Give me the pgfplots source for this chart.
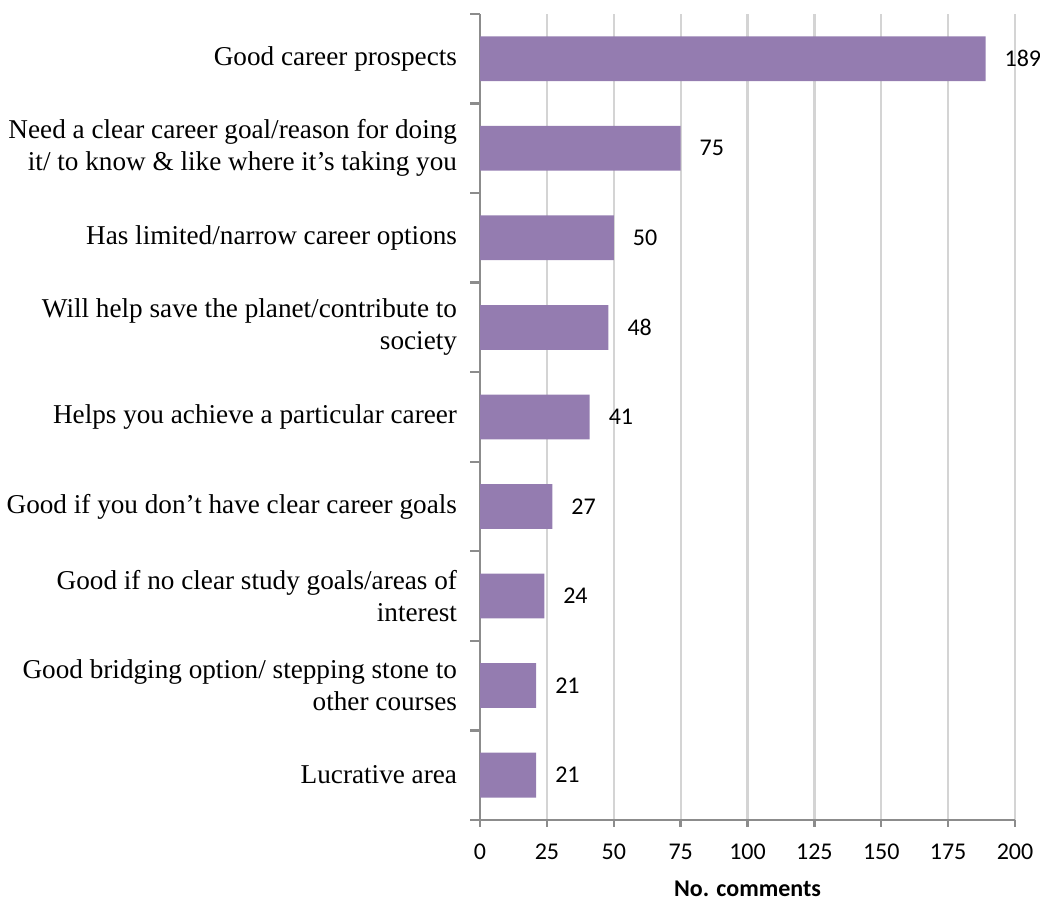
\documentclass[border=0pt]{standalone}
\usepackage{fontspec}
\setmainfont{Liberation Serif}
\newfontfamily\calfont{Carlito}
\usepackage{pgfplots}
\pgfplotsset{compat=1.18}
\definecolor{barpurple}{HTML}{947CB0}
\definecolor{gridgray}{HTML}{D4D4D4}
\definecolor{axisgray}{HTML}{8C8C8C}

\begin{document}
\begin{tikzpicture}
\begin{axis}[
    xbar,
    scale only axis,
    width=267.5pt, height=403pt,
    xmin=0, xmax=200,
    ymin=-0.5, ymax=8.5,
    xtick={0,25,...,200},
    ytick={0,...,8},
    yticklabels={
        {Lucrative area},
        {Good bridging option/ stepping stone to\\other courses},
        {Good if no clear study goals/areas of\\interest},
        {Good if you don’t have clear career goals},
        {Helps you achieve a particular career},
        {Will help save the planet/contribute to\\society},
        {Has limited/narrow career options},
        {Need a clear career goal/reason for doing\\it/ to know \& like where it’s taking you},
        {Good career prospects}},
    minor ytick={-0.5,0.5,...,8.5},
    axis lines*=left,
    axis line style={axisgray, line width=1.2pt},
    tick align=outside,
    major tick length=3.5pt, minor tick length=5pt,
    tick style={axisgray, line width=1.2pt},
    major y tick style={draw=none},
    xmajorgrids,
    grid style={gridgray, line width=1.1pt},
    bar width=0.5,
    yticklabel style={align=right, xshift=-4.5pt, font=\fontsize{13.6}{16}\selectfont},
    xticklabel style={yshift=-5pt, font=\calfont\fontsize{12}{14}\selectfont},
    /pgf/number format/assume math mode=true,
    xlabel={No. comments},
    xlabel style={yshift=-4pt, font=\calfont\bfseries\fontsize{12}{14}\selectfont},
    nodes near coords,
    nodes near coords style={font=\calfont\fontsize{12}{14}\selectfont, xshift=6pt, black},
]
\addplot[fill=barpurple, draw=none] coordinates {
    (21,0) (21,1) (24,2) (27,3) (41,4) (48,5) (50,6) (75,7) (189,8)
};
\end{axis}
% crop on the right like the reference, which cuts through the last value label
\coordinate (sw) at (current bounding box.south west);
\pgfresetboundingbox
\path (sw) rectangle ([xshift=12.5pt, yshift=7pt]current axis.north east);
\end{tikzpicture}
\end{document}
